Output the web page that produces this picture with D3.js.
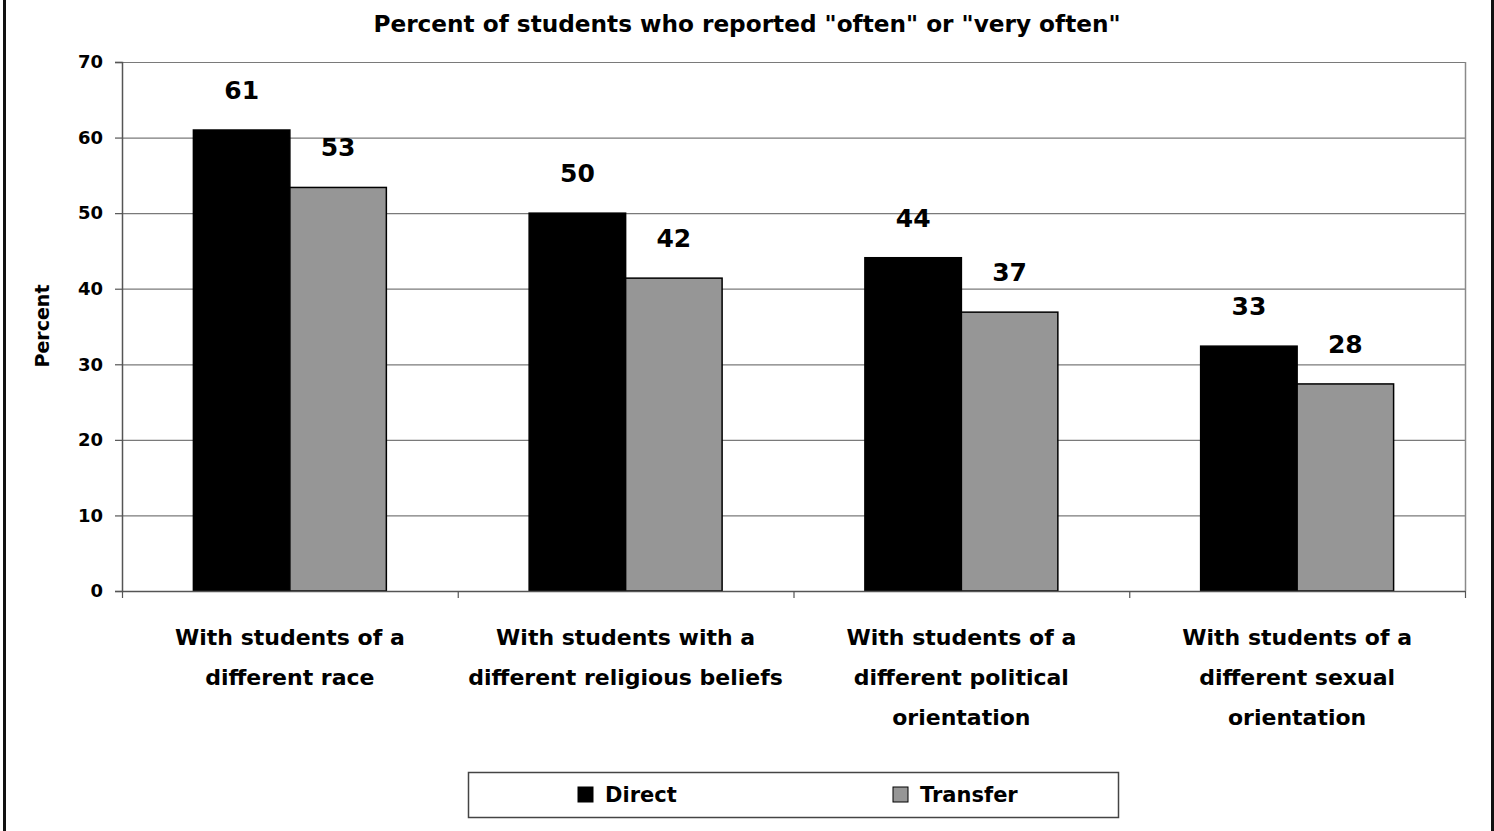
<!DOCTYPE html>
<html>
<head>
<meta charset="utf-8">
<script src="https://cdn.jsdelivr.net/npm/d3@7"></script>
<style>
  html, body { margin: 0; padding: 0; background: #fff; }
  svg { display: block; }
  text { font-family: "DejaVu Sans", sans-serif; font-weight: bold; fill: #000; }
</style>
</head>
<body>
<svg id="chart" width="1494" height="831"></svg>
<script>
// ---- data ----
const categories = [
  ["With students of a", "different race"],
  ["With students with a", "different religious beliefs"],
  ["With students of a", "different political", "orientation"],
  ["With students of a", "different sexual", "orientation"]
];
const seriesNames = ["Direct", "Transfer"];
const directValues = [61.0, 50.0, 44.1, 32.4];
const transferValues = [53.4, 41.4, 36.9, 27.4];
const directLabels = ["61", "50", "44", "33"];
const transferLabels = ["53", "42", "37", "28"];
const yTicks = [0, 10, 20, 30, 40, 50, 60, 70];
const titleText = 'Percent of students who reported "often" or "very often"';
const yAxisTitle = "Percent";
const colors = ["#000000", "#969696"];

// ---- layout ----
const W = 1494, H = 831;
const plot = { left: 122, right: 1465, top: 62, bottom: 591 };
const svg = d3.select("#chart");

// outer frame (left/right edges)
svg.append("rect").attr("x", 3).attr("y", 0).attr("width", 3).attr("height", H).attr("fill", "#111");
svg.append("rect").attr("x", 1491).attr("y", 0).attr("width", 3).attr("height", H).attr("fill", "#111");

const idx = d3.range(categories.length);
const x0 = d3.scaleBand().domain(idx).range([plot.left, plot.right]).paddingInner(0).paddingOuter(0);
const x1 = d3.scaleBand().domain(seriesNames).range([0, x0.bandwidth()]).paddingInner(0).paddingOuter(0.74);
const y = d3.scaleLinear().domain([0, 70]).range([plot.bottom, plot.top]);

// gridlines
svg.append("g").selectAll("line").data(yTicks).join("line")
  .attr("x1", plot.left).attr("x2", plot.right)
  .attr("y1", d => y(d) + 0.5).attr("y2", d => y(d) + 0.5)
  .attr("stroke", "#7a7a7a").attr("stroke-width", 1.2);

// plot area right border
svg.append("line").attr("x1", plot.right + 0.5).attr("x2", plot.right + 0.5)
  .attr("y1", plot.top).attr("y2", plot.bottom)
  .attr("stroke", "#8a8a8a").attr("stroke-width", 1.5);

// bars
const data = [];
idx.forEach(i => {
  data.push({ i, s: "Direct", v: directValues[i], label: directLabels[i], c: colors[0] });
  data.push({ i, s: "Transfer", v: transferValues[i], label: transferLabels[i], c: colors[1] });
});
svg.append("g").selectAll("rect").data(data).join("rect")
  .attr("x", d => x0(d.i) + x1(d.s))
  .attr("y", d => y(d.v))
  .attr("width", x1.bandwidth())
  .attr("height", d => y(0) - y(d.v))
  .attr("fill", d => d.c)
  .attr("stroke", "#000").attr("stroke-width", 1.5);

// value labels
svg.append("g").selectAll("text").data(data).join("text")
  .attr("x", d => x0(d.i) + x1(d.s) + x1.bandwidth() / 2)
  .attr("y", d => y(d.v) - 31)
  .attr("text-anchor", "middle")
  .style("font-size", "25px")
  .text(d => d.label);

// y axis
const yAxis = d3.axisLeft(y).tickValues(yTicks).tickSize(7).tickPadding(12).tickFormat(d3.format("d"));
const gy = svg.append("g").attr("transform", `translate(${plot.left},0)`).call(yAxis);
gy.select(".domain").attr("stroke", "#555").attr("stroke-width", 1.5);
gy.selectAll(".tick line").attr("stroke", "#555").attr("stroke-width", 1.2);
gy.selectAll(".tick text").style("font-size", "18px").style("font-family", "'DejaVu Sans', sans-serif").style("font-weight", "bold").attr("fill", "#000");

// x axis (baseline + boundary ticks)
svg.append("line").attr("x1", plot.left).attr("x2", plot.right)
  .attr("y1", plot.bottom + 0.5).attr("y2", plot.bottom + 0.5)
  .attr("stroke", "#555").attr("stroke-width", 1.5);
const bounds = idx.map(i => x0(i)).concat([plot.right]);
svg.append("g").selectAll("line").data(bounds).join("line")
  .attr("x1", d => d + 0.5).attr("x2", d => d + 0.5)
  .attr("y1", plot.bottom).attr("y2", plot.bottom + 7)
  .attr("stroke", "#555").attr("stroke-width", 1.2);

// category labels
const catG = svg.append("g").selectAll("text").data(idx).join("text")
  .attr("text-anchor", "middle")
  .style("font-size", "22px");
catG.each(function(i) {
  const t = d3.select(this);
  categories[i].forEach((line, k) => {
    t.append("tspan").attr("x", x0(i) + x0.bandwidth() / 2).attr("y", 645 + k * 40).text(line);
  });
});

// title
svg.append("text").attr("x", 747).attr("y", 32).attr("text-anchor", "middle")
  .style("font-size", "23.2px").text(titleText);

// y axis title
svg.append("text").attr("transform", "translate(49,326) rotate(-90)")
  .attr("text-anchor", "middle").style("font-size", "19px").text(yAxisTitle);

// legend
svg.append("rect").attr("x", 468.5).attr("y", 772.5).attr("width", 650).attr("height", 45)
  .attr("fill", "#fff").attr("stroke", "#444").attr("stroke-width", 1.5);
const legX = [578, 893];
const leg = svg.append("g").selectAll("g").data(seriesNames).join("g")
  .attr("transform", (d, k) => `translate(${legX[k]},787)`);
leg.append("rect").attr("width", 15).attr("height", 15)
  .attr("fill", (d, k) => colors[k]).attr("stroke", "#000").attr("stroke-width", 1);
leg.append("text").attr("x", 27).attr("y", 15).style("font-size", "21px").text(d => d);
</script>
</body>
</html>
